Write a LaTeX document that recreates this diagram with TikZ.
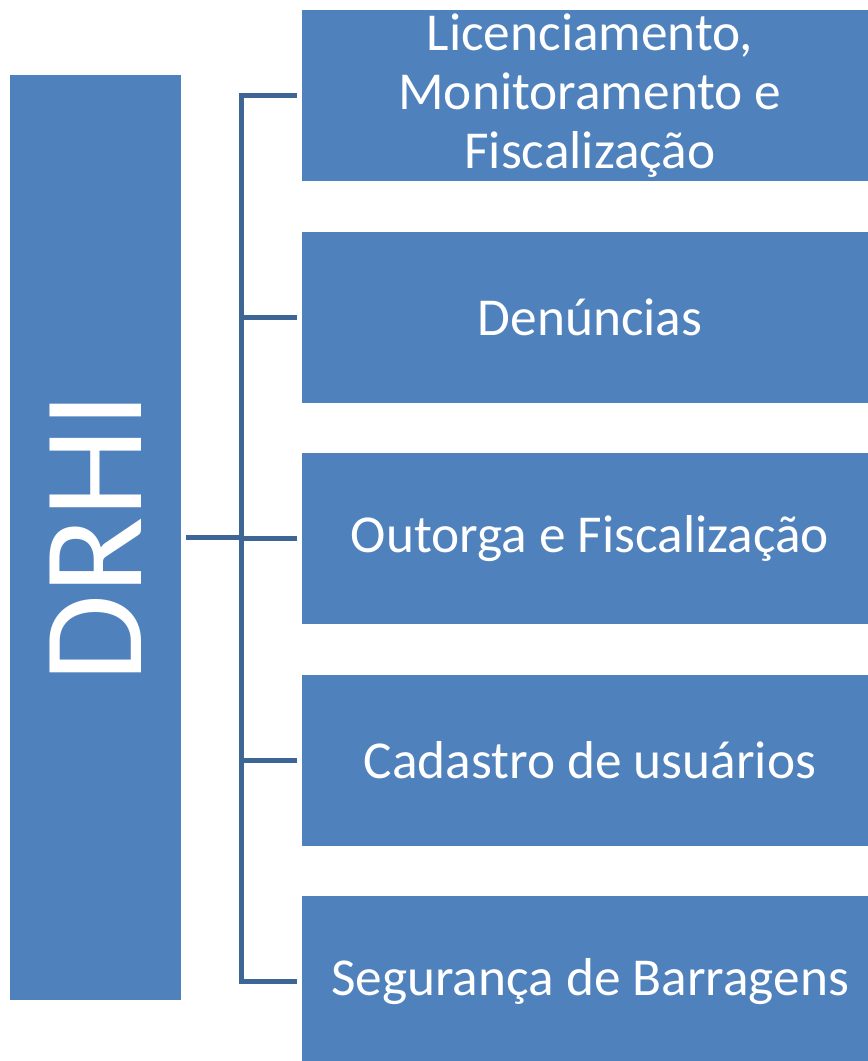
\documentclass[tikz,border=0pt]{standalone}
\usepackage{fontspec}
\setmainfont{Carlito}
\usepackage{tikz}
\usetikzlibrary{positioning}

\definecolor{boxblue}{HTML}{4F81BD}
\definecolor{linkblue}{HTML}{3D6696}

\tikzset{
  unitbox/.style = {fill=boxblue, draw=none, inner sep=0pt, text=white, align=center,
                    minimum width=432pt, minimum height=128.25pt,
                    font=\fontsize{40}{44}\selectfont},
  headbox/.style = {fill=boxblue, draw=none, inner sep=0pt, text=white,
                    minimum width=128.25pt, minimum height=693.75pt},
  link/.style = {draw=linkblue, line width=3.75pt}
}

\begin{document}
\begin{tikzpicture}[x=0.75pt, y=-0.75pt]
    \useasboundingbox (0,0) rectangle (868,1061);
    \clip (0,0) rectangle (868,1061);

    % directorate
    \node[headbox] (drhi) at (95.5,537.5) {};
    \node[rotate=90, text=white, font=\fontsize{107}{120}\selectfont] (drhilabel) at (drhi.center) {DRHI};

    % units
    \node[unitbox] (b1) at (590,95.5) {Licenciamento,\\Monitoramento e\\Fiscalização};
    \node[unitbox, below=37.5pt of b1] (b2) {Denúncias};
    \node[unitbox, below=37.5pt of b2] (b3) {Outorga e Fiscalização};
    \node[unitbox, below=37.5pt of b3] (b4) {Cadastro de usuários};
    \node[unitbox, below=37.5pt of b4] (b5) {Segurança de Barragens};

    % connectors
    \coordinate (bus) at (241.5,537.5);
    \draw[link, shorten <=3.75pt] (drhi.east) -- (bus);
    \foreach \b in {b1,b2,b3,b4,b5}
        \draw[link, shorten >=3.75pt] (bus) |- (\b.west);
\end{tikzpicture}
\end{document}
